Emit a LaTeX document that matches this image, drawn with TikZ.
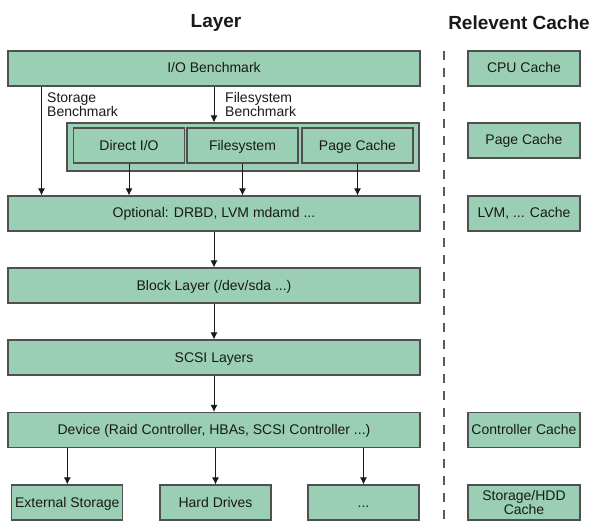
\documentclass[tikz,border=0pt]{standalone}
\usepackage{fontspec}
\setmainfont{Liberation Sans}
\usetikzlibrary{arrows.meta}
\definecolor{boxgreen}{RGB}{155,207,181}
\definecolor{boxline}{RGB}{80,80,80}
\definecolor{sepgray}{RGB}{90,90,90}
\definecolor{txt}{RGB}{25,25,25}
\tikzset{
  layer/.style={draw=boxline, fill=boxgreen, line width=1.1pt, inner sep=0pt, text=txt,
    minimum height=35pt, align=center, font=\fontsize{14}{14}\selectfont},
  oneline/.style={layer, text height=10pt, text depth=1pt},
  wide/.style={oneline, minimum width=412pt},
  small/.style={oneline, minimum width=111pt},
  cache/.style={oneline, minimum width=112pt},
  title/.style={font=\fontsize{19}{19}\selectfont\bfseries, text=txt},
  note/.style={anchor=west, align=left, inner sep=0pt, text=txt, font=\fontsize{14}{13}\selectfont},
  arr/.style={-{Latex[length=7pt,width=7pt]}, line width=1pt, draw=txt},
  sep/.style={draw=sepgray, line width=1.6pt, dash pattern=on 9pt off 8pt}
}

\begin{document}
\begin{tikzpicture}[x=1pt,y=-1pt]
\useasboundingbox (0,0) rectangle (600,532);

\node[title] (ltitle) at (216,23) {Layer};
\node[title] (ctitle) at (519,23) {Relevent Cache};

\node[wide] (io) at (214,68.5) {I/O Benchmark};
\node[layer, minimum width=352pt, minimum height=48pt] (grp) at (243,147) {};
\node[small] (dio) at (129,145.5) {Direct I/O};
\node[small] (fs) at (242.5,145.5) {Filesystem};
\node[small] (pc) at (357.5,145.5) {Page Cache};
\node[wide] (opt) at (214,213.5) {Optional: DRBD, LVM mdamd ...};
\node[wide] (blk) at (214,285.5) {Block Layer (/dev/sda ...)};
\node[wide] (scsi) at (214,357.5) {SCSI Layers};
\node[wide] (dev) at (214,430) {Device (Raid Controller, HBAs, SCSI Controller ...)};
\node[small] (ext) at (67.3,502.5) {External Storage};
\node[small] (hdd) at (215.5,502.5) {Hard Drives};
\node[small] (more) at (363.5,502.5) {...};

\node[note] (stlab) at (47,104.5) {Storage\\Benchmark};
\node[note] (fslab) at (225,104.5) {Filesystem\\Benchmark};

\node[cache] (cpu) at (524,68.5) {CPU Cache};
\node[cache] (pcache) at (524,140.5) {Page Cache};
\node[cache] (lvm) at (524,213.5) {LVM, ... Cache};
\node[cache] (ctrl) at (524,430) {Controller Cache};
\node[layer, minimum width=112pt] (shdd) at (524,502.5) {Storage/HDD\\Cache};

\coordinate (sb) at (41.5,0);
\coordinate (dtop) at (444,51);
\coordinate (dbot) at (444,520);

\draw[arr] (io.south -| sb) -- (opt.north -| sb);
\draw[arr] (io.south) -- (grp.north -| io.south);
\draw[arr] (dio) -- (opt.north -| dio);
\draw[arr] (fs) -- (opt.north -| fs);
\draw[arr] (pc) -- (opt.north -| pc);
\draw[arr] (opt) -- (blk);
\draw[arr] (blk) -- (scsi);
\draw[arr] (scsi) -- (dev);
\draw[arr] (dev.south -| ext) -- (ext);
\draw[arr] (dev.south -| hdd) -- (hdd);
\draw[arr] (dev.south -| more) -- (more);
\draw[sep] (dtop) -- (dbot);
\end{tikzpicture}
\end{document}
